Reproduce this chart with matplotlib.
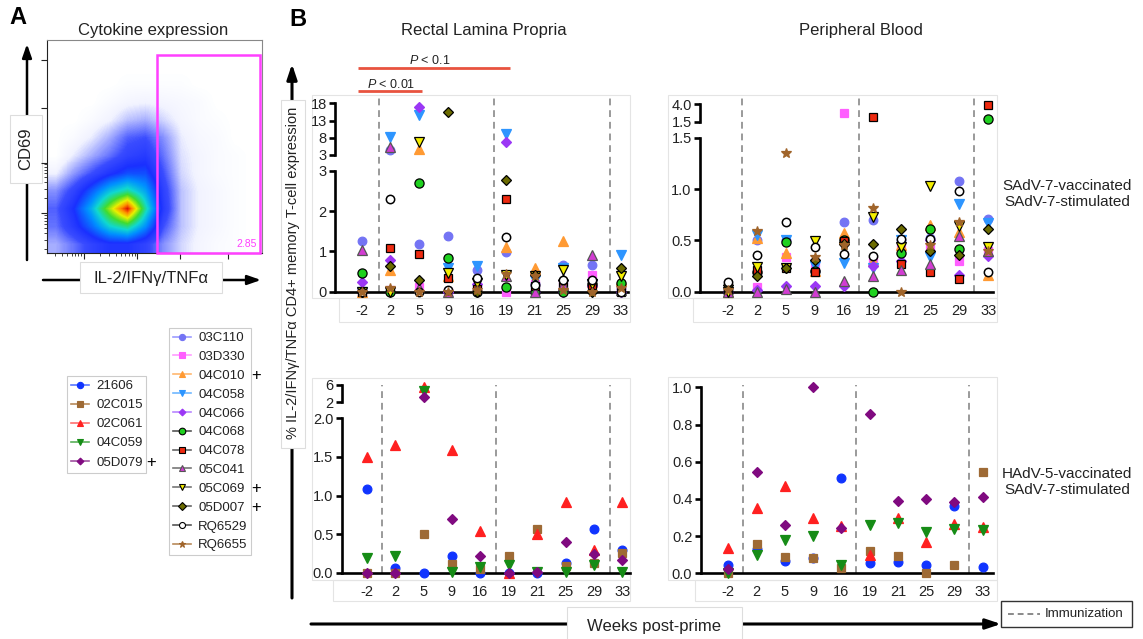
import numpy as np
import matplotlib
matplotlib.use("Agg")
import matplotlib.pyplot as plt
from matplotlib.lines import Line2D
from matplotlib.patches import Rectangle
from matplotlib.colors import LinearSegmentedColormap

W, H = 1143, 639

plt.rcParams['font.family'] = ['Liberation Sans', 'DejaVu Sans']
plt.rcParams['mathtext.fontset'] = 'custom'
plt.rcParams['mathtext.it'] = 'Liberation Sans:italic'
plt.rcParams['mathtext.rm'] = 'Liberation Sans'

# ---------------------------------------------------------------- data
weeks = ["-2", "2", "5", "9", "16", "19", "21", "25", "29", "33"]

sadv_subjects = ["03C110", "03D330", "04C010", "04C058", "04C066", "04C068",
                 "04C078", "05C041", "05C069", "05D007", "RQ6529", "RQ6655"]
hadv_subjects = ["21606", "02C015", "02C061", "04C059", "05D079"]
plus_subjects = ["04C010", "05C069", "05D007", "05D079"]

# % cytokine+ CD4 memory T cells, rectal lamina propria, SAdV-7 vaccinated
rlp_sadv = [
    [1.27, 4.4, 1.19, 1.39, 0.54, 0.98, 0.18, 0.67, 0.67, 0.08],
    [0.0, 0.05, 0.12, 0.0, 0.1, 0.0, 0.2, 0.17, 0.42, 0.12],
    [0.0, 0.54, 4.6, 0.4, 0.12, 1.12, 0.58, 1.27, 0.25, 0.3],
    [0.0, 8.3, 14.6, 0.6, 0.65, 9.0, 0.3, 0.6, 0.2, 0.92],
    [0.25, 0.78, 16.8, 0.0, 0.2, 6.9, 0.0, 0.0, 0.15, 0.0],
    [0.46, 0.0, 2.71, 0.83, 0.0, 0.12, 0.0, 0.0, 0.2, 0.21],
    [0.0, 1.08, 0.94, 0.33, 0.06, 2.31, 0.15, 0.15, 0.17, 0.0],
    [1.04, 5.2, 0.1, 0.0, 0.1, 0.4, 0.0, 0.17, 0.92, 0.05],
    [0.0, 0.0, 6.7, 0.46, 0.22, 0.42, 0.38, 0.54, 0.2, 0.4],
    [0.0, 0.65, 0.29, 15.6, 0.0, 2.78, 0.42, 0.3, 0.0, 0.58],
    [0.0, 2.31, 0.0, 0.05, 0.33, 1.36, 0.17, 0.29, 0.29, 0.0],
    [0.0, 0.1, 0.0, 0.0, 0.05, 0.43, 0.4, 0.05, 0.0, 0.1],
]
# peripheral blood, SAdV-7 vaccinated
pb_sadv = [
    [0.0, 0.5, 0.5, 0.2, 0.68, 0.7, 0.5, 0.52, 1.08, 0.71],
    [0.0, 0.05, 0.34, 0.28, 2.68, 0.3, 0.44, 0.44, 0.3, 0.4],
    [0.0, 0.52, 0.38, 0.2, 0.57, 0.3, 0.45, 0.65, 0.58, 0.16],
    [0.0, 0.55, 0.5, 0.25, 0.28, 0.23, 0.5, 0.34, 0.85, 0.67],
    [0.0, 0.02, 0.055, 0.055, 0.055, 0.25, 0.3, 0.5, 0.16, 0.35],
    [0.0, 0.19, 0.48, 0.2, 0.5, 0.0, 0.38, 0.61, 0.42, 1.88],
    [0.0, 0.21, 0.23, 0.19, 0.49, 2.11, 0.27, 0.19, 0.12, 3.86],
    [0.0, 0.0, 0.03, 0.0, 0.1, 0.15, 0.21, 0.27, 0.54, 0.4],
    [0.0, 0.24, 0.23, 0.49, 0.44, 0.73, 0.44, 1.03, 0.64, 0.44],
    [0.065, 0.15, 0.23, 0.31, 0.46, 0.46, 0.61, 0.4, 0.36, 0.61],
    [0.09, 0.36, 0.68, 0.44, 0.37, 0.35, 0.51, 0.51, 0.98, 0.19],
    [0.02, 0.59, 1.35, 0.34, 0.45, 0.82, 0.0, 0.45, 0.68, 0.4],
]
# rectal lamina propria, HAdV-5 vaccinated
rlp_hadv = [
    [1.09, 0.06, 0.0, 0.22, 0.0, 0.0, 0.0, 0.12, 0.57, 0.3],
    [0.0, 0.0, 0.5, 0.11, 0.05, 0.22, 0.57, 0.09, 0.13, 0.25],
    [1.5, 1.65, 5.6, 1.59, 0.54, 0.0, 0.5, 0.92, 0.29, 0.92],
    [0.19, 0.22, 4.7, 0.01, 0.08, 0.1, 0.01, 0.01, 0.1, 0.01],
    [0.0, 0.0, 3.3, 0.7, 0.22, 0.0, 0.01, 0.4, 0.24, 0.16],
]
# peripheral blood, HAdV-5 vaccinated
pb_hadv = [
    [0.045, 0.13, 0.066, 0.08, 0.51, 0.057, 0.06, 0.045, 0.36, 0.032],
    [0.0, 0.16, 0.09, 0.084, 0.03, 0.12, 0.095, 0.0, 0.045, 0.547],
    [0.134, 0.353, 0.47, 0.3, 0.256, 0.1, 0.3, 0.17, 0.263, 0.25],
    [0.0, 0.1, 0.18, 0.2, 0.045, 0.26, 0.27, 0.22, 0.237, 0.233],
    [0.023, 0.547, 0.26, 1.0, 0.242, 0.855, 0.39, 0.398, 0.385, 0.41],
]

# event density of the cytokine vs CD69 dot plot (rows: CD69 low -> high)
flow_density = [
    [.12, .18, .25, .30, .30, .25, .15, .08, .04, .02, .01, 0],
    [.18, .28, .40, .55, .62, .45, .22, .10, .05, .03, .01, 0],
    [.20, .32, .50, .75, 1.0, .60, .28, .10, .05, .03, .01, 0],
    [.15, .25, .38, .52, .60, .48, .26, .10, .05, .03, .01, 0],
    [.05, .14, .22, .30, .36, .36, .22, .08, .04, .02, .01, 0],
    [0, .06, .12, .18, .25, .28, .18, .07, .04, .02, .01, 0],
    [0, .02, .06, .12, .20, .22, .15, .06, .03, .02, 0, 0],
    [0, 0, .02, .05, .10, .12, .08, .04, .02, .01, 0, 0],
    [0, 0, 0, .02, .04, .05, .04, .03, .02, 0, 0, 0],
    [0, 0, 0, 0, .01, .01, .01, .01, 0, 0, 0, 0],
    [0] * 12,
    [0] * 12,
]
gate_frequency = "2.85"

# ---------------------------------------------------------------- styles
sadv_marker = ['o', 's', '^', 'v', 'D', 'o', 's', '^', 'v', 'D', 'o', '*']
sadv_face = ['#7474F4', '#FF5EFF', '#FF9A33', '#2D95FF', '#9B37F5', '#1FD11F',
             '#EE2A10', '#D23CD2', '#F4EE00', '#6B6B00', 'white', '#A0642A']
sadv_edge = ['#7474F4', '#FF5EFF', '#FF9A33', '#2D95FF', '#9B37F5', 'black',
             'black', '#555555', 'black', 'black', 'black', '#A0642A']
sadv_size = [6.2, 6.0, 6.5, 6.5, 4.8, 6.6, 6.2, 6.6, 6.8, 5.4, 6.0, 7.0]
sadv_line = ['#9C9CFF', '#FF9CFF', '#FFB870', '#70B8FF', '#B886FF', '#555555',
             '#666666', '#777777', '#777777', '#666666', '#555555', '#B88A5A']

hadv_marker = ['o', 's', '^', 'v', 'D']
hadv_face = ['#1034FF', '#9E6A35', '#FF2020', '#168C16', '#800A80']
hadv_size = [6.3, 6.2, 6.6, 6.6, 4.8]
hadv_line = ['#5A78FF', '#B88A5A', '#FF7070', '#5AB05A', '#A050A0']

SPW = 1.9
TXT = '#222222'

fig = plt.figure(figsize=(W / 100, H / 100), dpi=100)
bg = fig.add_axes([0, 0, 1, 1], zorder=-5)
bg.set_xlim(0, W)
bg.set_ylim(H, 0)
bg.axis('off')


def rect(x0, y0, x1, y1):
    """Figure rectangle from pixel box (origin at top left)."""
    return [x0 / W, 1 - y1 / H, (x1 - x0) / W, (y1 - y0) / H]


def faint_box(x0, y0, x1, y1):
    bg.add_patch(Rectangle((x0, y0), x1 - x0, y1 - y0, fill=False,
                           edgecolor='#e4e4e4', lw=0.8))


def style_y(ax):
    for s in ('top', 'right'):
        ax.spines[s].set_visible(False)
    ax.spines['left'].set_linewidth(SPW)
    ax.patch.set_visible(False)
    ax.tick_params(axis='y', direction='out', length=4.5, width=SPW, pad=1.5,
                   labelsize=10.5, labelcolor=TXT)


def panel(left, right, x_first, x_step, y_zero, y_top, ymax, yticks, ylabels,
          dashes, dash_top, values, markers, faces, edges, sizes, brk=None):
    xlim = ((left - x_first) / x_step, (right - x_first) / x_step)
    ax = fig.add_axes(rect(left, y_top, right, y_zero))
    ax.set_xlim(*xlim)
    ax.set_ylim(0, ymax)
    style_y(ax)
    ax.spines['bottom'].set_linewidth(SPW)
    ax.set_yticks(yticks)
    ax.set_yticklabels(ylabels)
    ax.set_xticks(range(len(weeks)))
    ax.set_xticklabels(weeks)
    ax.tick_params(axis='x', length=0, pad=8.5, labelsize=10.5, labelcolor=TXT)
    up = None
    if brk is not None:
        b_bottom, b_top, b_lo, b_hi, b_ticks, b_labels = brk
        up = fig.add_axes(rect(left, b_top, right, b_bottom))
        up.set_xlim(*xlim)
        up.set_ylim(b_lo, b_hi)
        style_y(up)
        up.spines['bottom'].set_visible(False)
        up.set_xticks([])
        up.set_yticks(b_ticks)
        up.set_yticklabels(b_labels)
    frac = (y_zero - dash_top) / (y_zero - y_top)
    for d in dashes:
        ax.axvline(d, 0, frac, color='#9a9a9a', lw=1.4, ls=(0, (3.5, 2.5)),
                   clip_on=False, zorder=1)
    idx = np.arange(len(weeks))
    for row, m, fc, ec, ms in zip(values, markers, faces, edges, sizes):
        arr = np.asarray(row, dtype=float)
        low = arr <= ymax
        kw = dict(ls='none', marker=m, ms=ms, mfc=fc, mec=ec,
                  mew=1.1 if fc == 'white' else 0.9, clip_on=False, zorder=3)
        ax.plot(idx[low], arr[low], **kw)
        if up is not None and (~low).any():
            up.plot(idx[~low], arr[~low], **kw)
    return ax, up


# ---------------------------------------------------------------- panel B
faint_box(312, 95, 630, 298)
faint_box(339, 298, 630, 322)
faint_box(668, 95, 997, 298)
faint_box(693, 298, 997, 322)
faint_box(312, 378, 630, 580)
faint_box(333, 580, 630, 601)
faint_box(668, 377, 997, 580)
faint_box(695, 580, 997, 601)

panel(335, 628, 361.7, 28.8, 291.7, 171.0, 3, [0, 1, 2, 3], ['0', '1', '2', '3'],
      [0.59, 4.58, 8.61], 95, rlp_sadv, sadv_marker, sadv_face, sadv_edge, sadv_size,
      brk=(155.0, 103.3, 3, 18, [3, 8, 13, 18], ['3', '8', '13', '18']))
panel(700, 993, 728.0, 28.9, 291.7, 137.7, 1.5, [0, 0.5, 1.0, 1.5],
      ['0.0', '0.5', '1.0', '1.5'],
      [0.49, 4.52, 8.5], 95, pb_sadv, sadv_marker, sadv_face, sadv_edge, sadv_size,
      brk=(121.7, 104.0, 1.5, 4.0, [1.5, 4.0], ['1.5', '4.0']))
panel(341.7, 630, 366.7, 28.4, 572.7, 418.3, 2.0, [0, 0.5, 1.0, 1.5, 2.0],
      ['0.0', '0.5', '1.0', '1.5', '2.0'],
      [0.53, 4.54, 8.55], 385, rlp_hadv, hadv_marker, hadv_face, hadv_face, hadv_size,
      brk=(402.3, 385.0, 2, 6, [2, 6], ['2', '6']))
panel(700.7, 993, 728.3, 28.27, 573.3, 387.3, 1.0, [0, 0.2, 0.4, 0.6, 0.8, 1.0],
      ['0.0', '0.2', '0.4', '0.6', '0.8', '1.0'],
      [0.51, 4.53, 8.5], 385, pb_hadv, hadv_marker, hadv_face, hadv_face, hadv_size)

bg.text(298, 19, "B", fontsize=17, fontweight='bold', ha='center', va='center')
bg.text(484, 31, "Rectal Lamina Propria", fontsize=12, ha='center', va='center', color=TXT)
bg.text(861, 31, "Peripheral Blood", fontsize=12, ha='center', va='center', color=TXT)

# significance bars
bg.plot([358, 510], [68, 68], color='#E8533F', lw=2.0, solid_capstyle='butt')
bg.text(430, 61, "$P$ < 0.1", fontsize=9, ha='center', va='center', color=TXT)
bg.plot([358, 422], [91, 91], color='#E8533F', lw=2.0, solid_capstyle='butt')
bg.text(391, 84, "$P$ < 0.01", fontsize=9, ha='center', va='center', color=TXT)

bg.text(1067, 194, "SAdV-7-vaccinated\nSAdV-7-stimulated", fontsize=11,
        ha='center', va='center', color=TXT, linespacing=1.25)
bg.text(1067, 482, "HAdV-5-vaccinated\nSAdV-7-stimulated", fontsize=11,
        ha='center', va='center', color=TXT, linespacing=1.25)

# y arrow with label
bg.annotate('', xy=(292, 64), xytext=(292, 598),
            arrowprops=dict(arrowstyle='-|>,head_length=0.9,head_width=0.3',
                            lw=2.2, color='black', shrinkA=0, shrinkB=0))
bg.add_patch(Rectangle((281, 100), 24, 348, facecolor='white',
                       edgecolor='#dddddd', lw=0.8, zorder=3))
bg.text(293, 273, "% IL-2/IFNγ/TNFα CD4+ memory T-cell expression", rotation=90,
        fontsize=10.5, ha='center', va='center', color=TXT, zorder=4)

# x arrow with label
bg.annotate('', xy=(1001, 624), xytext=(311, 624),
            arrowprops=dict(arrowstyle='-|>,head_length=0.9,head_width=0.3',
                            lw=2.2, color='black', shrinkA=0, shrinkB=0))
bg.add_patch(Rectangle((567, 607), 175, 40, facecolor='white',
                       edgecolor='#dddddd', lw=0.8, zorder=3))
bg.text(654, 627, "Weeks post-prime", fontsize=12, ha='center', va='center',
        color=TXT, zorder=4)

# immunization key
bg.add_patch(Rectangle((1001, 601), 131, 26, facecolor='white',
                       edgecolor='#333333', lw=1.0, zorder=3))
bg.plot([1008, 1040], [614, 614], color='#8a8a8a', lw=1.4, ls=(0, (3, 2)), zorder=4)
bg.text(1045, 614, "Immunization", fontsize=9.5, ha='left', va='center',
        color=TXT, zorder=4)

# ---------------------------------------------------------------- legends
def legend_handle(m, fc, ec, ms, lc):
    return Line2D([0], [0], color=lc, lw=1.2, marker=m, ms=ms * 0.72, mfc=fc,
                  mec=ec, mew=0.8)


h_hadv = [legend_handle(m, fc, fc, ms, lc) for m, fc, ms, lc in
          zip(hadv_marker, hadv_face, hadv_size, hadv_line)]
h_sadv = [legend_handle(m, fc, ec, ms, lc) for m, fc, ec, ms, lc in
          zip(sadv_marker, sadv_face, sadv_edge, sadv_size, sadv_line)]

leg_kw = dict(loc='upper left', frameon=True, fancybox=False, fontsize=9.5,
              handlelength=1.35, handletextpad=0.55, borderpad=0.3,
              borderaxespad=0, edgecolor='#cccccc', framealpha=1)
leg1 = fig.legend(h_hadv, hadv_subjects, bbox_to_anchor=(67 / W, 1 - 376 / H),
                  labelspacing=0.52, **leg_kw)
leg2 = fig.legend(h_sadv, sadv_subjects, bbox_to_anchor=(169 / W, 1 - 328 / H),
                  labelspacing=0.5, **leg_kw)
for lg in (leg1, leg2):
    lg.get_frame().set_linewidth(0.8)
    for t in lg.get_texts():
        t.set_color(TXT)

# "+" flags beside the legend entries they belong to
fig.canvas.draw()
for lg, names in ((leg1, hadv_subjects), (leg2, sadv_subjects)):
    right_px = lg.get_window_extent().x1
    for name, t in zip(names, lg.get_texts()):
        if name in plus_subjects:
            bb = t.get_window_extent()
            y_px = H - (bb.y0 + bb.y1) / 2
            bg.text(right_px + 5, y_px, "+", fontsize=12, ha='center',
                    va='center', color='black')

# ---------------------------------------------------------------- panel A
bg.text(18, 18, "A", fontsize=17, fontweight='bold', ha='center', va='center')
bg.text(153, 30, "Cytokine expression", fontsize=12, ha='center', va='center', color=TXT)

fa = fig.add_axes(rect(47, 40, 262, 253))
cmap = LinearSegmentedColormap.from_list(
    'flow', [(0.0, 'white'), (0.05, '#f2f3ff'), (0.12, '#a4acff'), (0.22, '#3a4cff'),
             (0.32, '#1a30ff'), (0.45, '#0090ff'), (0.56, '#10d8d0'),
             (0.68, '#40dc30'), (0.8, '#e8f000'), (0.9, '#ff8c00'), (1.0, '#e01000')])
fa.imshow(np.array(flow_density), extent=(0, 1, 0, 1), origin='lower',
          interpolation='bilinear', cmap=cmap, vmin=0, vmax=1, aspect='auto')
fa.set_xlim(0, 1)
fa.set_ylim(0, 1)
for s in fa.spines.values():
    s.set_linewidth(0.8)
    s.set_color('#888888')
fa.spines['left'].set_color('#222222')
fa.spines['bottom'].set_color('#222222')
major_y = [0.188, 0.423, 0.681, 0.906]
major_x = [0.17, 0.42, 0.62, 0.84]
minor = np.log10(np.arange(2, 10)) * 0.24
fa.set_yticks(major_y)
fa.set_yticks([m + f for m in [0.188 - 0.24] + major_y[:1] for f in minor
               if 0 < m + f < 1], minor=True)
fa.set_xticks(major_x)
fa.set_xticks([m + f for m in [0.17 - 0.25, 0.17] for f in minor * 1.04
               if 0 < m + f < 1], minor=True)
fa.tick_params(which='major', length=4, width=0.8, direction='out',
               labelleft=False, labelbottom=False, color='#222222')
fa.tick_params(which='minor', length=2, width=0.6, direction='out', color='#222222')
fa.add_patch(Rectangle((0.512, 0.0), 0.479, 0.93, fill=False,
                       edgecolor='#FF40FF', lw=1.8, clip_on=False, zorder=5))
fa.text(0.975, 0.02, gate_frequency, transform=fa.transAxes, ha='right',
        va='bottom', fontsize=7.5, color='#FF40FF')

# axis arrows of the dot plot
bg.annotate('', xy=(27, 44), xytext=(27, 260),
            arrowprops=dict(arrowstyle='-|>,head_length=0.8,head_width=0.28',
                            lw=1.8, color='black', shrinkA=0, shrinkB=0))
bg.add_patch(Rectangle((10, 115), 32, 68, facecolor='white',
                       edgecolor='#dddddd', lw=0.8, zorder=3))
bg.text(26, 149, "CD69", rotation=90, fontsize=12, ha='center', va='center',
        color=TXT, zorder=4)
bg.annotate('', xy=(261, 280), xytext=(43, 280),
            arrowprops=dict(arrowstyle='-|>,head_length=0.8,head_width=0.28',
                            lw=1.8, color='black', shrinkA=0, shrinkB=0))
bg.add_patch(Rectangle((80, 262), 142, 31, facecolor='white',
                       edgecolor='#dddddd', lw=0.8, zorder=3))
bg.text(151, 278, "IL-2/IFNγ/TNFα", fontsize=12, ha='center', va='center',
        color=TXT, zorder=4)

fig.savefig("out.png", dpi=100)
